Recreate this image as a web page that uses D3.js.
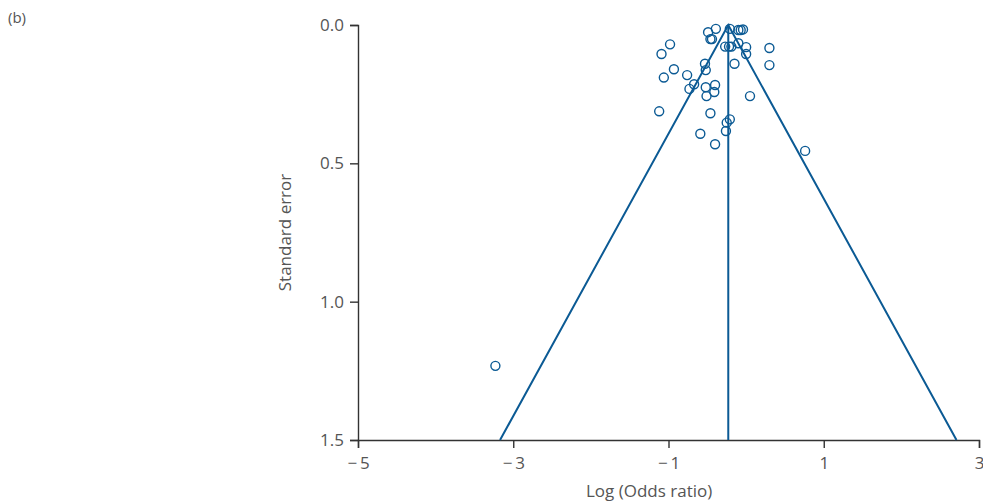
<!DOCTYPE html>
<html>
<head>
<meta charset="utf-8">
<script src="https://cdn.jsdelivr.net/npm/d3@7"></script>
<style>
  body { margin: 0; background: #fff; }
  svg text { font-family: "Open Sans", sans-serif; fill: #555; }
</style>
</head>
<body>
<div id="chart"></div>
<script>
// study estimates: log odds ratio and its standard error
const logOR = [
  -0.39, -0.49, -0.46, -0.44, -0.21, -0.10, -0.07, -0.04, -0.98, -1.09,
  -0.27, -0.22, -0.19, -0.10, 0.00, 0.00, 0.30, 0.30, -0.15, -0.53,
  -0.52, -0.93, -1.06, -0.76, -0.67, -0.73, -0.52, -0.40, -0.41, -0.51,
  0.05, -1.12, -0.46, -0.21, -0.25, -0.26, -0.59, -0.40, 0.76, -3.23
];
const stdErr = [
  0.014, 0.026, 0.051, 0.051, 0.014, 0.018, 0.018, 0.016, 0.070, 0.105,
  0.078, 0.078, 0.078, 0.066, 0.080, 0.105, 0.083, 0.145, 0.140, 0.140,
  0.163, 0.160, 0.190, 0.181, 0.214, 0.231, 0.225, 0.217, 0.242, 0.257,
  0.257, 0.312, 0.319, 0.341, 0.353, 0.383, 0.393, 0.431, 0.455, 1.232
];
const pooled = -0.23;
const xTicks = [-5, -3, -1, 1, 3];
const yTicks = [0, 0.5, 1.0, 1.5];

const margin = { top: 25, right: 4, bottom: 61, left: 358 };
const W = 983, H = 501;
const width = W - margin.left - margin.right;
const height = H - margin.top - margin.bottom;
const blue = '#0b5a94';

const svg = d3.select('#chart').append('svg')
  .attr('width', W).attr('height', H);

svg.append('text').attr('x', 8).attr('y', 23)
  .style('font-size', '15px').text('(b)');

const g = svg.append('g')
  .attr('transform', `translate(${margin.left},${margin.top})`);

const x = d3.scaleLinear().domain([-5, 3]).range([0, width]);
const y = d3.scaleLinear().domain([0, 1.5]).range([0, height]);

const xAxis = g.append('g')
  .attr('transform', `translate(0,${height})`)
  .call(d3.axisBottom(x).tickValues(xTicks).tickSize(8).tickPadding(9)
    .tickFormat(d => d < 0 ? '\u2212\u2009' + Math.abs(d) : d));
const yAxis = g.append('g')
  .call(d3.axisLeft(y).tickValues(yTicks).tickSize(8).tickPadding(6)
    .tickFormat(d3.format('.1f')));

[xAxis, yAxis].forEach(a => {
  a.selectAll('path, line').attr('stroke', '#333').attr('stroke-width', 1.4);
  a.selectAll('text').style('font-size', '17px').attr('fill', '#555');
});

// funnel (95% limits) and pooled estimate line
const funnel = [
  [pooled - 1.96 * 1.5, 1.5],
  [pooled, 0],
  [pooled + 1.96 * 1.5, 1.5]
];
g.append('path')
  .attr('d', d3.line().x(d => x(d[0])).y(d => y(d[1]))(funnel))
  .attr('fill', 'none').attr('stroke', blue).attr('stroke-width', 2);
g.append('line')
  .attr('x1', x(pooled)).attr('x2', x(pooled))
  .attr('y1', y(0)).attr('y2', y(1.5))
  .attr('stroke', blue).attr('stroke-width', 2);

g.selectAll('circle.study')
  .data(logOR.map((v, i) => ({ v, se: stdErr[i] })))
  .enter().append('circle')
  .attr('class', 'study')
  .attr('cx', d => x(d.v))
  .attr('cy', d => y(d.se))
  .attr('r', 4.5)
  .attr('fill', 'none')
  .attr('stroke', blue)
  .attr('stroke-width', 1.4);

svg.append('text')
  .attr('x', margin.left + x(-1.25)).attr('y', 497)
  .attr('text-anchor', 'middle')
  .style('font-size', '17px').text('Log (Odds ratio)');

svg.append('text')
  .attr('transform', `translate(291,${margin.top + y(0.75)}) rotate(-90)`)
  .attr('text-anchor', 'middle')
  .style('font-size', '17px').text('Standard error');
</script>
</body>
</html>
